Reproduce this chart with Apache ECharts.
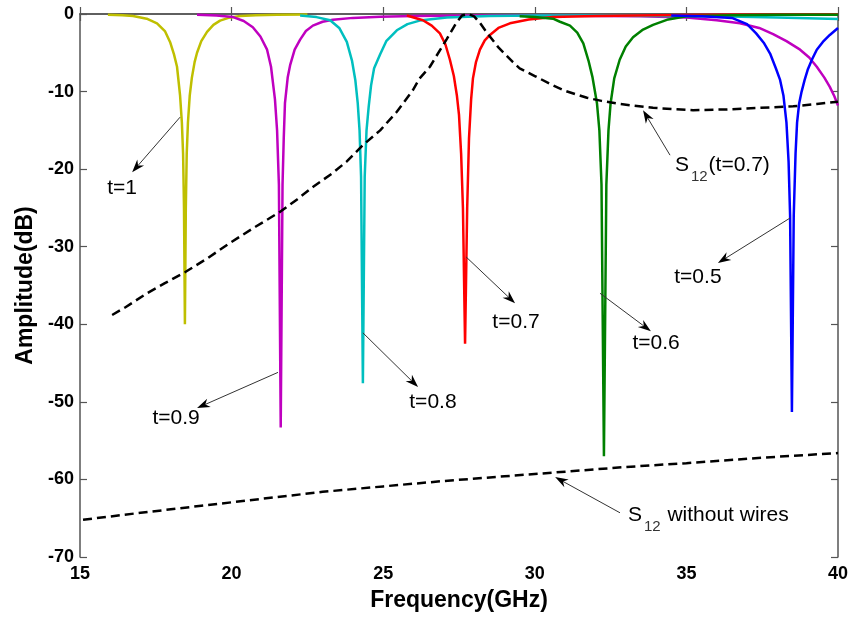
<!DOCTYPE html>
<html>
<head>
<meta charset="utf-8">
<script src="https://cdn.jsdelivr.net/npm/echarts@6/dist/echarts.min.js"></script>
<style>
  html, body { margin: 0; padding: 0; background: #fff; }
  #chart { width: 852px; height: 618px; }
</style>
</head>
<body>
<div id="chart"></div>
<script>
// Reflection amplitude (dB) versus frequency (GHz) for several wire thicknesses t,
// plus transmission S12 with t=0.7 and S12 of the bare structure.

// t = 1
const s11T10 = [[15.92,-0.1],[16.4,-0.15],[16.75,-0.25],[17.2,-0.6],[17.54,-1.2],[17.8,-2.2],[17.97,-3.6],[18.1,-5.2],[18.2,-6.8],[18.3,-10.5],[18.36,-14],[18.4,-18],[18.43,-25],[18.46,-40],[18.49,-25],[18.52,-18],[18.56,-14],[18.62,-10.5],[18.69,-8.2],[18.78,-6.2],[18.86,-5.0],[19.0,-3.5],[19.19,-2.3],[19.4,-1.4],[19.62,-0.85],[19.9,-0.5],[20.28,-0.25],[20.8,-0.15],[21.5,-0.1],[22.5,-0.05]];
// t = 0.9
const s11T09 = [[18.86,-0.1],[19.5,-0.2],[20.05,-0.4],[20.4,-0.9],[20.7,-1.7],[20.95,-2.9],[21.17,-4.6],[21.3,-6.8],[21.43,-11],[21.5,-15],[21.56,-22],[21.62,-53.3],[21.68,-22],[21.72,-16],[21.76,-11.5],[21.85,-8.2],[21.93,-6.6],[22.08,-4.6],[22.26,-3.3],[22.45,-2.2],[22.68,-1.5],[23.0,-1.0],[23.34,-0.75],[24.0,-0.5],[24.9,-0.35],[26,-0.25],[28,-0.2],[30,-0.2],[32,-0.25],[33.5,-0.3],[35,-0.45],[36,-0.8],[36.77,-1.2],[37.4,-1.8],[37.86,-2.6],[38.3,-3.5],[38.75,-4.6],[39.05,-5.6],[39.3,-6.8],[39.55,-8.2],[39.73,-9.4],[39.88,-10.6],[40,-11.8]];
// t = 0.8
const s11T08 = [[22.26,-0.2],[22.8,-0.4],[23.25,-0.8],[23.55,-1.8],[23.8,-3.6],[23.97,-6.0],[24.08,-8.5],[24.16,-11.5],[24.22,-15],[24.27,-21],[24.33,-47.6],[24.39,-21],[24.45,-15],[24.52,-12],[24.6,-9.2],[24.7,-7],[24.9,-5.2],[25.1,-3.5],[25.45,-2.1],[25.8,-1.3],[26.2,-0.85],[27.1,-0.45],[28.5,-0.25],[30,-0.2],[32,-0.2],[34,-0.25],[36,-0.3],[38,-0.45],[40,-0.65]];
// t = 0.7
const s11T07 = [[25.78,-0.2],[26.31,-0.8],[26.6,-1.5],[26.87,-2.5],[27.05,-3.9],[27.2,-5.9],[27.33,-8],[27.43,-10.5],[27.5,-13],[27.57,-18],[27.63,-25],[27.7,-42.5],[27.77,-25],[27.83,-16],[27.9,-11],[27.96,-8.3],[28.06,-6.2],[28.19,-4.6],[28.35,-3.4],[28.52,-2.7],[28.8,-1.8],[29.18,-1.2],[29.8,-0.7],[30.6,-0.4],[32,-0.25],[34,-0.15],[36,-0.1],[38,-0.05],[40,-0.05]];
// t = 0.6
const s11T06 = [[29.5,-0.3],[30.0,-0.4],[30.6,-0.6],[30.83,-1.0],[31.16,-1.5],[31.4,-2.4],[31.6,-3.8],[31.77,-6],[31.9,-8.1],[32.05,-11.5],[32.13,-15],[32.2,-22],[32.28,-57],[32.36,-22],[32.43,-15],[32.5,-11.5],[32.62,-8.3],[32.8,-5.9],[33.0,-4.2],[33.24,-3.0],[33.57,-2.0],[33.9,-1.4],[34.4,-0.7],[35,-0.3],[36.5,-0.15],[38,-0.1],[40,-0.1]];
// t = 0.5
const s11T05 = [[34.5,-0.2],[35.5,-0.3],[36.5,-0.5],[37.0,-1.3],[37.3,-2.5],[37.55,-3.7],[37.76,-5.1],[37.95,-7],[38.09,-8.5],[38.2,-10.5],[38.3,-14],[38.37,-19],[38.42,-26],[38.48,-51.3],[38.54,-26],[38.6,-18],[38.65,-14],[38.72,-11.5],[38.8,-10],[38.9,-8.5],[39.0,-7.2],[39.15,-5.8],[39.3,-4.6],[39.5,-3.6],[39.73,-2.7],[40,-1.8]];
// S12, t = 0.7
const s12T07 = [[16.06,-38.8],[16.5,-37.8],[17.21,-36.0],[17.8,-34.7],[18.46,-33.3],[19.2,-31.5],[19.95,-29.5],[20.8,-27.4],[21.6,-25.5],[22.16,-23.9],[22.68,-22.3],[23.3,-20.6],[23.8,-19.0],[24.33,-16.9],[24.9,-15.0],[25.45,-12.6],[25.98,-9.8],[26.2,-8.3],[26.54,-6.8],[27.1,-3.2],[27.4,-1.2],[27.6,-0.2],[27.8,0],[28.0,-0.3],[28.2,-1.2],[28.42,-2.4],[28.8,-4.3],[29.28,-6.2],[29.5,-7.0],[30.0,-8.0],[30.6,-9.2],[31.0,-9.9],[31.72,-10.8],[32.2,-11.2],[32.8,-11.6],[33.9,-12.1],[35.22,-12.4],[36.34,-12.3],[37.43,-12.1],[38.52,-11.9],[39.3,-11.6],[40,-11.3]];
// S12 without wires
const s12Bare = [[15.1,-65.2],[17,-64.3],[19,-63.4],[21,-62.5],[23,-61.6],[25,-60.9],[27,-60.2],[29,-59.6],[31,-59.0],[33,-58.4],[35,-57.9],[37.5,-57.2],[40,-56.6]];

// Annotations (data coordinates): arrow tail on the curve, arrow head, label
const notes = [
  { text: 't=1',   tail: [18.30,-13.3], head: [16.72,-20.4], at: [16.39,-22.4] },
  { text: 't=0.9', tail: [21.53,-46.2], head: [18.86,-50.8], at: [18.17,-52.1] },
  { text: 't=0.8', tail: [24.33,-41.1], head: [26.15,-48.1], at: [26.64,-50.0] },
  { text: 't=0.7', tail: [27.73,-31.3], head: [29.35,-37.3], at: [29.38,-39.7] },
  { text: 't=0.6', tail: [32.15,-36.0], head: [33.83,-40.9], at: [34.00,-42.5] },
  { text: 't=0.5', tail: [38.42,-26.3], head: [36.04,-32.1], at: [35.38,-33.9] }
];
const s12Notes = [
  { rest: '(t=0.7)',        tail: [34.46,-18.2], head: [33.57,-12.4], at: [34.62,-19.5] },
  { rest: ' without wires', tail: [32.81,-64.3], head: [30.67,-59.7], at: [33.07,-64.6] }
];

const chart = echarts.init(document.getElementById('chart'), null, { renderer: 'canvas' });

const axisCol = '#555';
const tickFont = { fontFamily: 'Liberation Sans, Arial, sans-serif', fontWeight: 'bold', fontSize: 18, color: '#000' };
const titleFont = { fontFamily: 'Liberation Sans, Arial, sans-serif', fontWeight: 'bold', fontSize: 23, color: '#000' };

function curve(data, color, dashed) {
  return {
    type: 'line', data: data, xAxisIndex: 0, yAxisIndex: 0,
    symbol: 'none', smooth: false, clip: true,
    lineStyle: { color: color, width: 2.5, type: dashed ? [9, 5] : 'solid' },
    emphasis: { disabled: true }
  };
}

const boxAxis = {
  axisLine: { show: true, lineStyle: { color: axisCol, width: 1.5 } },
  axisTick: { show: true, inside: true, length: 7, lineStyle: { color: axisCol, width: 1.2 } },
  splitLine: { show: false }
};

chart.setOption({
  animation: false,
  backgroundColor: '#fff',
  grid: { left: 80, right: 14, top: 14, bottom: 61, containLabel: false, outerBoundsMode: 'none' },
  xAxis: [
    Object.assign({ type: 'value', position: 'bottom', min: 15, max: 40, interval: 5,
      axisLabel: Object.assign({ margin: 8 }, tickFont),
      name: 'Frequency(GHz)', nameLocation: 'middle', nameGap: 32, nameTextStyle: titleFont }, boxAxis),
    Object.assign({ type: 'value', position: 'top', min: 15, max: 40, interval: 5,
      axisLabel: { show: false } }, boxAxis)
  ],
  yAxis: [
    Object.assign({ type: 'value', position: 'left', min: -70, max: 0, interval: 10,
      axisLabel: Object.assign({ margin: 6 }, tickFont),
      name: 'Amplitude(dB)', nameLocation: 'middle', nameGap: 43, nameRotate: 90, nameTextStyle: titleFont }, boxAxis),
    Object.assign({ type: 'value', position: 'right', min: -70, max: 0, interval: 10,
      axisLabel: { show: false } }, boxAxis)
  ],
  series: [
    curve(s11T10, '#bfbf00'),
    curve(s11T09, '#bf00bf'),
    curve(s11T08, '#00bfbf'),
    curve(s11T07, '#ff0000'),
    curve(s11T06, '#008000'),
    curve(s11T05, '#0000ff'),
    curve(s12T07, '#000', true),
    curve(s12Bare, '#000', true)
  ]
});

// Annotation layer: arrows and labels placed through the axes' own scales
const toPx = p => chart.convertToPixel({ xAxisIndex: 0, yAxisIndex: 0 }, p);
const measureCtx = document.createElement('canvas').getContext('2d');
function textWidth(str, font) { measureCtx.font = font; return measureCtx.measureText(str).width; }

function arrow(tailD, headD) {
  const t = toPx(tailD), h = toPx(headD);
  const dx = h[0] - t[0], dy = h[1] - t[1];
  const len = Math.hypot(dx, dy);
  const ux = dx / len, uy = dy / len, nx = -uy, ny = ux;
  const L = 13, W = 4.5, N = 9;
  const bx = h[0] - ux * L, by = h[1] - uy * L;
  return [
    { type: 'line', silent: true, z: 10,
      shape: { x1: t[0], y1: t[1], x2: h[0] - ux * N, y2: h[1] - uy * N },
      style: { stroke: '#333', lineWidth: 1 } },
    { type: 'polygon', silent: true, z: 10,
      shape: { points: [[h[0], h[1]], [bx + nx * W, by + ny * W], [h[0] - ux * N, h[1] - uy * N], [bx - nx * W, by - ny * W]] },
      style: { fill: '#000' } }
  ];
}

const noteFont = '21px "Liberation Sans", Arial, sans-serif';
const subFont = '15px "Liberation Sans", Arial, sans-serif';
const elements = [];
notes.forEach(n => {
  elements.push(...arrow(n.tail, n.head));
  const p = toPx(n.at);
  elements.push({ type: 'text', silent: true, z: 10, x: p[0], y: p[1],
    style: { text: n.text, font: noteFont, fill: '#000', align: 'center', verticalAlign: 'middle' } });
});
s12Notes.forEach(n => {
  elements.push(...arrow(n.tail, n.head));
  const p = toPx(n.at);
  const wS = textWidth('S', noteFont);
  const w12 = textWidth('12', subFont);
  elements.push({ type: 'text', silent: true, z: 10, x: p[0], y: p[1],
    style: { text: 'S', font: noteFont, fill: '#000', align: 'left', verticalAlign: 'middle' } });
  elements.push({ type: 'text', silent: true, z: 10, x: p[0] + wS + 2, y: p[1] + 12,
    style: { text: '12', font: subFont, fill: '#333', align: 'left', verticalAlign: 'middle' } });
  elements.push({ type: 'text', silent: true, z: 10, x: p[0] + wS + w12 + 3, y: p[1],
    style: { text: n.rest, font: noteFont, fill: '#000', align: 'left', verticalAlign: 'middle' } });
});
chart.setOption({ graphic: elements });
</script>
</body>
</html>
